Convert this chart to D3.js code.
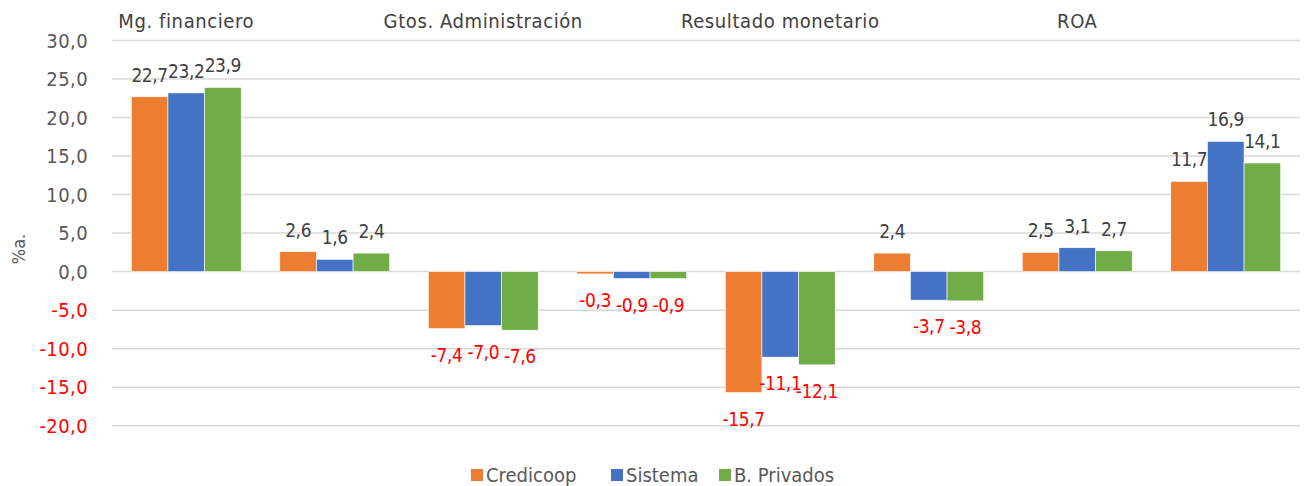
<!DOCTYPE html>
<html>
<head>
<meta charset="utf-8">
<script src="https://cdn.jsdelivr.net/npm/d3@7"></script>
<style>
  body { margin: 0; background: #fff; }
  text { font-family: "DejaVu Sans Condensed", "DejaVu Sans", sans-serif; }
</style>
</head>
<body>
<script>
// chart size, same as the window
var width = 1304,
    height = 486;

// data
var categories = ["c1", "c2", "c3", "c4", "c5", "c6", "c7", "c8"];
var headers = ["Mg. financiero", "", "Gtos. Administración", "", "Resultado monetario", "", "ROA", ""];
var seriesNames = ["Credicoop", "Sistema", "B. Privados"];
var credicoop = [22.7, 2.6, -7.4, -0.3, -15.7, 2.4, 2.5, 11.7];
var sistema = [23.2, 1.6, -7.0, -0.9, -11.1, -3.7, 3.1, 16.9];
var privados = [23.9, 2.4, -7.6, -0.9, -12.1, -3.8, 2.7, 14.1];
var yTicks = [-20, -15, -10, -5, 0, 5, 10, 15, 20, 25, 30];
var colors = ["#ED7D31", "#4472C4", "#70AD47"];

var series = [credicoop, sistema, privados];

var svg = d3.select("body")
    .append("svg")
    .attr("width", width)
    .attr("height", height);

var x = d3.scaleBand()
    .domain(categories)
    .range([112, 1300])
    .paddingInner(0.26)
    .paddingOuter(0.13);

var xs = d3.scaleBand()
    .domain(d3.range(series.length))
    .range([0, x.bandwidth()]);

var y = d3.scaleLinear()
    .domain([-20, 30])
    .range([425.7, 40.5]);

var fmt = function(v) { return d3.format(".1f")(v).replace(".", ",").replace("−", "-"); };

// gridlines
svg.append("g")
    .selectAll("line")
    .data(yTicks)
    .enter().append("line")
    .attr("x1", 112)
    .attr("x2", 1300)
    .attr("y1", function(d) { return y(d); })
    .attr("y2", function(d) { return y(d); })
    .attr("stroke", "#d9d9d9")
    .attr("stroke-width", 1.5);

// y tick labels, negatives in red
svg.append("g")
    .selectAll("text")
    .data(yTicks)
    .enter().append("text")
    .attr("x", 88)
    .attr("y", function(d) { return y(d); })
    .attr("dy", "0.35em")
    .attr("text-anchor", "end")
    .attr("font-size", 20)
    .attr("letter-spacing", 0.4)
    .attr("fill", function(d) { return d < 0 ? "#ff0000" : "#595959"; })
    .text(fmt);

// y title
svg.append("text")
    .attr("transform", "translate(25,249) rotate(-90)")
    .attr("text-anchor", "middle")
    .attr("font-size", 18)
    .attr("fill", "#595959")
    .text("%a.");

// header labels at the top
svg.append("g")
    .selectAll("text")
    .data(categories)
    .enter().append("text")
    .attr("x", function(d) { return x(d) + x.bandwidth() / 2; })
    .attr("y", 28)
    .attr("text-anchor", "middle")
    .attr("font-size", 20)
    .attr("letter-spacing", 0.6)
    .attr("fill", "#404040")
    .text(function(d, i) { return headers[i]; });

// bars
var groups = svg.append("g")
    .selectAll("g")
    .data(series)
    .enter().append("g")
    .attr("fill", function(d, i) { return colors[i]; });

groups.each(function(vals, si) {
    var g = d3.select(this);
    g.selectAll("rect")
        .data(vals)
        .enter().append("rect")
        .attr("x", function(d, i) { return x(categories[i]) + xs(si); })
        .attr("width", xs.bandwidth())
        .attr("y", function(d) { return y(Math.max(0, d)); })
        .attr("height", function(d) { return Math.abs(y(d) - y(0)); })
        .attr("stroke", "#fff")
        .attr("stroke-width", 0.6);

    g.selectAll("text")
        .data(vals)
        .enter().append("text")
        .attr("x", function(d, i) { return x(categories[i]) + xs(si) + xs.bandwidth() / 2; })
        .attr("y", function(d) { return d < 0 ? y(d) + 33 : y(d) - 15; })
        .attr("text-anchor", "middle")
        .attr("font-size", 19)
        .attr("letter-spacing", -0.4)
        .attr("fill", function(d) { return d < 0 ? "#ff0000" : "#404040"; })
        .text(fmt);
});

// legend
var legend = svg.append("g")
    .selectAll("g")
    .data(seriesNames)
    .enter().append("g")
    .attr("transform", function(d, i) { return "translate(" + [471, 611, 719][i] + ",469)"; });

legend.append("rect")
    .attr("width", 12)
    .attr("height", 12)
    .attr("fill", function(d, i) { return colors[i]; });

legend.append("text")
    .attr("x", 15)
    .attr("y", 13)
    .attr("font-size", 20)
    .attr("fill", "#595959")
    .text(function(d) { return d; });
</script>
</body>
</html>
